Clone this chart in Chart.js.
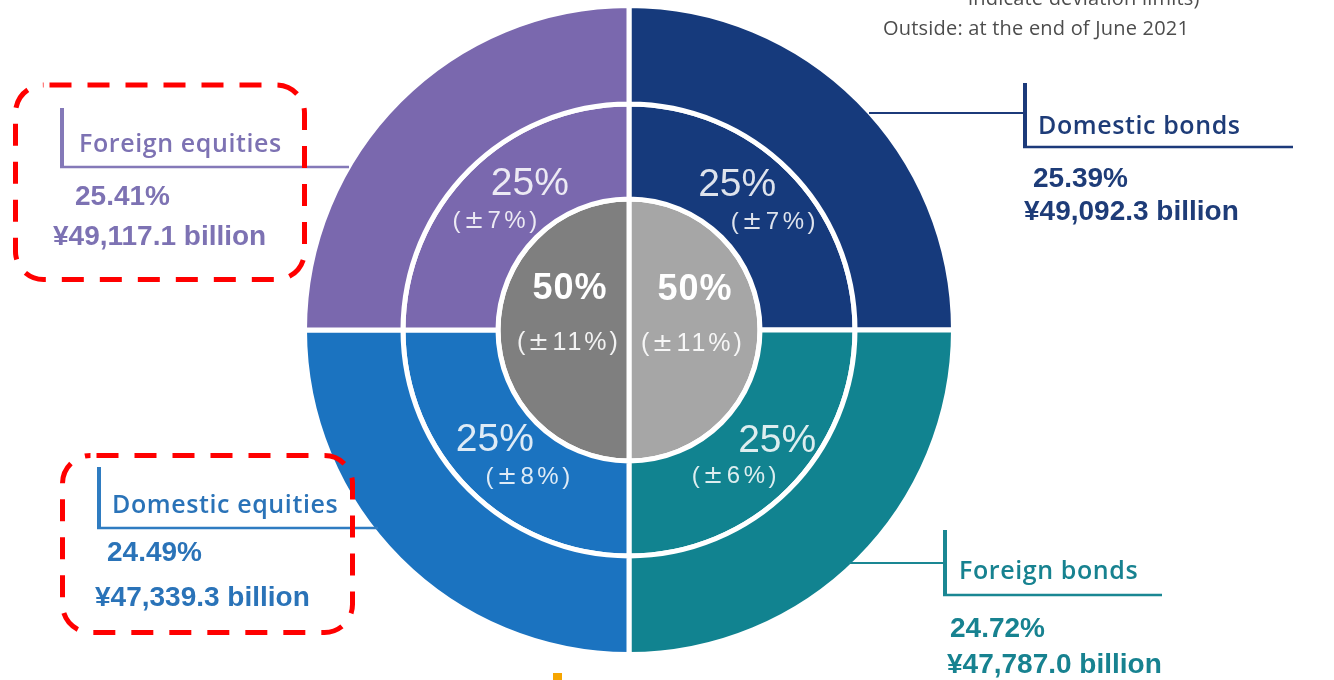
<!DOCTYPE html>
<html><head><meta charset="utf-8">
<script src="https://cdn.jsdelivr.net/npm/chart.js@4.4.0/dist/chart.umd.min.js"></script>
<style>
@font-face{font-family:"PM";src:local("DejaVu Sans"),local("DejaVuSans");unicode-range:U+00B1;}
html,body{margin:0;padding:0;background:#fff;}
#wrap{position:relative;width:1334px;height:680px;overflow:hidden;background:#fff;}
#c{position:absolute;left:0;top:0;}
#ov{position:absolute;left:0;top:0;}
.t{position:absolute;white-space:nowrap;line-height:1;}
.name{font-family:"Open Sans",sans-serif;font-weight:600;font-size:25px;letter-spacing:0.6px;transform:translateY(-50%);}
.num{font-family:"Liberation Sans",Arial,sans-serif;font-weight:700;font-size:28px;transform:translateY(-50%);}
.ring{font-family:"PM","Liberation Sans",Arial,sans-serif;transform:translate(-50%,-50%);color:rgba(255,255,255,0.86);}
.hdr{font-family:"Open Sans",sans-serif;font-size:20px;letter-spacing:0.2px;color:#4d4d4d;}
</style></head><body>
<div id="wrap">
<canvas id="c" width="1334" height="680"></canvas>
<svg id="ov" width="1334" height="680" xmlns="http://www.w3.org/2000/svg"></svg>
<div class="t hdr" style="left:968px;top:-12px;">indicate deviation limits)</div>
<div class="t hdr" style="left:883px;top:18px;">Outside: at the end of June 2021</div>
<div style="position:absolute;left:553px;top:673px;width:9px;height:7px;background:#f6a500;"></div>
</div>
<script>
// ---- data ----
const assetClasses = ['Domestic bonds', 'Foreign bonds', 'Domestic equities', 'Foreign equities'];
const targetShares = [25, 25, 25, 25];
const deviationLimits = ['(±7%)', '(±6%)', '(±8%)', '(±7%)'];
const actualShares = [25.39, 24.72, 24.49, 25.41];
const actualAmounts = ['¥49,092.3 billion', '¥47,787.0 billion', '¥47,339.3 billion', '¥49,117.1 billion'];
const groupNames = ['Bonds', 'Equities'];
const groupShares = [50, 50];
const groupDeviation = ['(±11%)', '(±11%)'];

// ---- styles / layout ----
const segColors = ['#163a7c', '#118390', '#1b73c0', '#7a68ae'];
const groupColors = ['#a6a6a6', '#7f7f7f'];
const labelColors = ['#1e3c78', '#178290', '#2a73b8', '#7d72b3'];
const lineColors = ['#1c3a7a', '#1a8793', '#2f7cc1', '#8479b8'];
const outerLayout = [
  {nameX:1038, numX:1033, amtX:1024, yName:124, yPct:178, yAmt:211, barX:1025, barTop:83, barBot:148, ulEnd:1293, leadY:113, leadFrom:869},
  {nameX:959, numX:950, amtX:947, yName:569, yPct:628, yAmt:664, barX:945, barTop:530, barBot:596, ulEnd:1162, leadY:563, leadFrom:849},
  {nameX:112, numX:107, amtX:95, yName:503, yPct:552, yAmt:597, barX:99, barTop:467, barBot:529, ulEnd:378, leadY:528, leadFrom:null},
  {nameX:79, numX:75, amtX:53, yName:142, yPct:196, yAmt:236, barX:62, barTop:108, barBot:168, ulEnd:349, leadY:167, leadFrom:null}
];
const midOffsets = [[-18,-22,18,17],[22,-18,-21,19],[-8,-19,25,20],[27,-23,-8,16]];
const innerOffsets = [[0,-42,-3,12],[6,-43,4,11]];

const wrap = document.getElementById('wrap');
function addDiv(cls, text, x, y, style) {
  const d = document.createElement('div');
  d.className = 't ' + cls;
  d.textContent = text;
  d.style.left = x + 'px';
  d.style.top = y + 'px';
  if (style) Object.assign(d.style, style);
  wrap.appendChild(d);
  return d;
}

const ringLabels = {
  id: 'ringLabels',
  afterDraw(chart) {
    if (chart._labelsDone) return;
    chart._labelsDone = true;
    const mid = chart.getDatasetMeta(1).data;
    mid.forEach((arc, i) => {
      const p = arc.getCenterPoint();
      const o = midOffsets[i];
      addDiv('ring', targetShares[i] + '%', p.x + o[0], p.y + o[1], {fontSize:'39px'});
      addDiv('ring', deviationLimits[i], p.x + o[2], p.y + o[3], {fontSize:'24px', letterSpacing:'3.5px', paddingLeft:'3.5px'});
    });
    const inn = chart.getDatasetMeta(2).data;
    inn.forEach((arc, i) => {
      const p = arc.getCenterPoint();
      const o = innerOffsets[i];
      addDiv('ring', groupShares[i] + '%', p.x + o[0], p.y + o[1], {fontSize:'36px', fontWeight:'700', letterSpacing:'1px', paddingLeft:'1px', color:'#fff'});
      addDiv('ring', groupDeviation[i], p.x + o[2], p.y + o[3], {fontSize:'25px', letterSpacing:'3px', paddingLeft:'3px', color:'rgba(255,255,255,0.9)'});
    });
  }
};

new Chart(document.getElementById('c'), {
  type: 'doughnut',
  data: {
    labels: assetClasses,
    datasets: [
      {data: targetShares, backgroundColor: segColors, weight: 98.5, clip: false},
      {data: targetShares, backgroundColor: segColors, weight: 95, clip: false},
      {data: groupShares, backgroundColor: groupColors, weight: 131, clip: false}
    ]
  },
  options: {
    responsive: false,
    animation: false,
    events: [],
    rotation: 0,
    circumference: 360,
    cutout: 0,
    radius: 324.5,
    layout: {padding: {left: 0, right: 76, top: 0, bottom: 20}},
    plugins: {legend: {display: false}, tooltip: {enabled: false}},
    elements: {arc: {borderColor: '#ffffff', borderWidth: 5, hoverOffset: 0}}
  },
  plugins: [ringLabels]
});

// outer labels, leader lines, highlight boxes
const svg = document.getElementById('ov');
const NS = 'http://www.w3.org/2000/svg';
function line(x1, y1, x2, y2, c, w) {
  const l = document.createElementNS(NS, 'line');
  l.setAttribute('x1', x1); l.setAttribute('y1', y1);
  l.setAttribute('x2', x2); l.setAttribute('y2', y2);
  l.setAttribute('stroke', c); l.setAttribute('stroke-width', w);
  svg.appendChild(l);
}
outerLayout.forEach((L, i) => {
  const c = lineColors[i];
  if (L.leadFrom !== null) {
    line(L.leadFrom, L.leadY, L.barX, L.leadY, c, 2);
  }
  line(L.barX, L.barTop, L.barX, L.barBot, c, 4);
  line(L.barX - 2, L.barBot - 1, L.ulEnd, L.barBot - 1, c, 2.5);
  addDiv('name', assetClasses[i], L.nameX, L.yName, {color: labelColors[i]});
  addDiv('num', actualShares[i].toFixed(2) + '%', L.numX, L.yPct, {color: labelColors[i]});
  addDiv('num', actualAmounts[i], L.amtX, L.yAmt, {color: labelColors[i]});
});
function dashedBox(x, y, w, h) {
  const r = document.createElementNS(NS, 'rect');
  r.setAttribute('x', x); r.setAttribute('y', y);
  r.setAttribute('width', w); r.setAttribute('height', h);
  r.setAttribute('rx', 28); r.setAttribute('ry', 28);
  r.setAttribute('fill', 'none'); r.setAttribute('stroke', '#ff0000');
  r.setAttribute('stroke-width', 5); r.setAttribute('stroke-dasharray', '22 16');
  r.setAttribute('stroke-dashoffset', '-6');
  svg.appendChild(r);
}
dashedBox(15.5, 85, 289, 194.5);
dashedBox(62.5, 455.5, 290, 177);
</script>
</body></html>
